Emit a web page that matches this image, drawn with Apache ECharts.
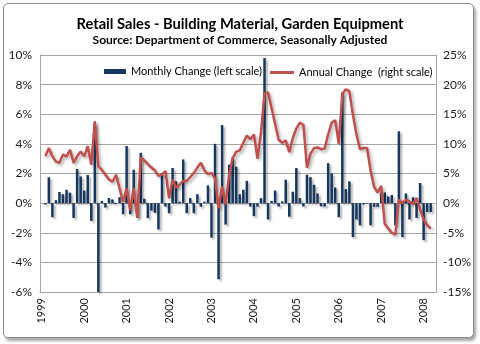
<!DOCTYPE html>
<html>
<head>
<meta charset="utf-8">
<script src="https://cdn.jsdelivr.net/npm/echarts@6/dist/echarts.min.js"></script>
<style>
  html, body { margin: 0; padding: 0; background: #ffffff; }
  #frame {
    position: absolute; left: 3px; top: 3px; width: 469px; height: 333px;
    border: 1px solid #8e8e8e; border-radius: 5px;
    box-shadow: 2px 3px 3px rgba(0, 0, 0, 0.35); background: #ffffff;
  }
  #chart { position: absolute; left: 0; top: 0; width: 480px; height: 344px; }
</style>
</head>
<body>
<div id="frame"></div>
<div id="chart"></div>
<script>
// Year tick labels shown on the month axis (one per January)
const yearLabels = ['1999', '2000', '2001', '2002', '2003', '2004', '2005', '2006', '2007', '2008'];

// Month-over-month change in sales, percent (left scale); Feb 1999 .. Mar 2008
const monthlyChange = [null,
  -0.1, 1.75, -0.95, 0.2, 0.75, 0.6, 0.9, 0.7, -1.0, 2.3,
  1.8, 0.85, 1.9, -1.2, 5.4, -6.0, 0.15, -0.3, 0.35, 0.25,
  -0.07, 0.4, -0.75, 3.85, -0.75, 2.25, -1.0, 3.4, 0.3, -1.02,
  -0.5, -0.65, -1.78, 2.04, -0.23, -0.68, 2.37, 1.47, 0.1, 2.95,
  -0.68, 0.34, -0.68, 0.6, -0.25, 0.1, 1.2, -2.33, 4.0, -5.14,
  5.27, -1.45, 2.6, 3.07, 2.46, 0.6, 0.9, 1.5, -0.23, -0.88,
  -0.23, 0.34, 9.8, -1.1, 0.15, 0.85, -0.23, 0.12, 1.58, -0.92,
  0.77, 2.37, 0.34, -0.23, 1.92, 1.75, 1.24, 0.65, -0.22, -0.23,
  2.7, 2.0, 1.06, -0.95, 7.47, 0.95, 1.47, -2.3, -1.1, -1.5,
  -0.1, -0.05, -1.5, -0.25, -0.25, 0.7, 0.72, 0.45, 0.55, -1.5,
  4.85, -2.3, 0.65, -1.1, 0.4, -1.0, 1.36, -2.5, -0.6, -0.6,
  null];

// Year-over-year change in sales, percent (right scale); same months
const annualChange = [null,
  7.9, 9.3, 7.9, 7.0, 6.8, 8.2, 7.9, 9.0, 6.8, 7.9,
  8.7, 7.9, 9.6, 6.5, 13.8, 6.2, 5.6, 4.8, 4.0, 3.6,
  4.8, 2.5, 0.2, 2.5, -1.2, 2.5, -2.5, 7.7, 7.2, 6.6,
  6.0, 5.5, 4.6, 4.8, 5.4, 0.8, 4.0, 2.6, 3.1, 3.8,
  3.7, 4.4, 5.1, 6.0, 6.8, 5.5, 4.9, 5.1, 4.2, -0.9,
  2.8, -0.2, 4.8, 7.6, 8.7, 8.9, 10.2, 11.4, 10.8, 11.6,
  7.5, 11.9, 18.5, 18.7, 16.0, 13.3, 10.7, 10.2, 10.6, 8.6,
  11.0, 12.6, 13.6, 13.2, 6.0, 8.3, 9.3, 9.4, 9.1, 9.2,
  11.6, 13.6, 14.0, 10.0, 18.4, 19.2, 18.9, 14.9, 11.6, 9.1,
  9.3, 9.3, 5.5, 2.7, 1.8, 2.9, -3.5, -4.3, -5.0, -5.3,
  0.6, 0.0, 0.6, 0.3, -0.2, 0.9, -1.0, -2.8, -3.7, -4.3,
  null];

// Month categories: Jan 1999 .. Apr 2008
const months = [];
for (const y of yearLabels) {
  for (let m = 1; m <= 12; m++) {
    if (y === '2008' && m > 4) break;
    months.push(y + '-' + String(m).padStart(2, '0'));
  }
}

const FONT = 'Lato, "Open Sans", sans-serif';
const GRID = '#a6a6a6';
const NAVY = '#17375e';
const RED = '#c0504d';

const chart = echarts.init(document.getElementById('chart'), null, { renderer: 'canvas' });
chart.setOption({
  backgroundColor: 'transparent',
  animation: false,
  title: [
    {
      text: 'Retail Sales - Building Material, Garden Equipment',
      left: 'center', top: 12,
      textStyle: { fontFamily: FONT, fontWeight: 'bold', fontSize: 14.7, color: '#000' }
    },
    {
      text: 'Source: Department of Commerce, Seasonally Adjusted',
      left: 'center', top: 29,
      textStyle: { fontFamily: FONT, fontWeight: 'bold', fontSize: 12, color: '#000' }
    }
  ],
  legend: [
    {
      data: [{ name: 'Monthly Change (left scale)', icon: 'rect' }],
      left: 104, top: 66, padding: 0,
      itemWidth: 22, itemHeight: 5,
      textStyle: { fontFamily: FONT, fontSize: 11, color: '#000' }
    },
    {
      data: [{ name: 'Annual Change  (right scale)', icon: 'rect' }],
      left: 270, top: 67, padding: 0,
      itemWidth: 24, itemHeight: 3,
      textStyle: { fontFamily: FONT, fontSize: 11, color: '#000' }
    }
  ],
  grid: { left: 40, right: 44, top: 55, bottom: 52, containLabel: false },
  xAxis: {
    type: 'category',
    data: months,
    boundaryGap: true,
    axisLine: { onZero: false, lineStyle: { color: GRID } },
    axisTick: { show: false },
    axisLabel: {
      rotate: 90, margin: 6,
      interval: (idx) => idx % 12 === 0,
      formatter: (v) => v.slice(0, 4),
      fontFamily: FONT, fontSize: 11, color: '#1a1a1a'
    },
    splitLine: { show: false }
  },
  yAxis: [
    {
      type: 'value', min: -6, max: 10, interval: 2,
      axisLine: { show: true, lineStyle: { color: GRID } },
      axisTick: { show: false },
      axisLabel: { formatter: '{value}%', margin: 8, fontFamily: FONT, fontSize: 12, color: '#1a1a1a' },
      splitLine: { show: true, lineStyle: { color: GRID, width: 1 } }
    },
    {
      type: 'value', min: -15, max: 25, interval: 5,
      axisLine: { show: true, lineStyle: { color: GRID } },
      axisTick: { show: false },
      axisLabel: { formatter: '{value}%', margin: 7, fontFamily: FONT, fontSize: 12, color: '#1a1a1a' },
      splitLine: { show: false }
    }
  ],
  series: [
    {
      name: 'Monthly Change (left scale)',
      type: 'bar',
      yAxisIndex: 0,
      data: monthlyChange,
      barWidth: 2.5,
      itemStyle: {
        color: NAVY,
        shadowColor: 'rgba(0,0,0,0.3)', shadowBlur: 2, shadowOffsetX: 2, shadowOffsetY: 2
      }
    },
    {
      name: 'Annual Change  (right scale)',
      type: 'line',
      yAxisIndex: 1,
      data: annualChange,
      symbol: 'none',
      itemStyle: { color: RED },
      lineStyle: {
        color: RED, width: 2.5,
        shadowColor: 'rgba(0,0,0,0.3)', shadowBlur: 3, shadowOffsetX: 2, shadowOffsetY: 2
      }
    }
  ]
});
</script>
</body>
</html>
